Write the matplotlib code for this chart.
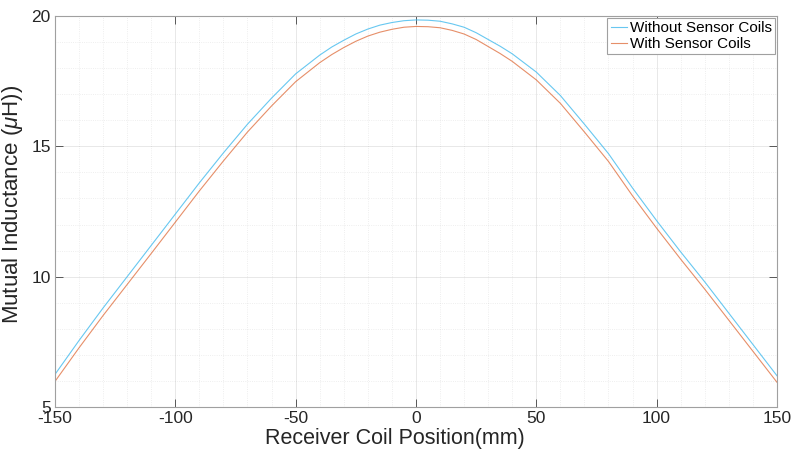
import numpy as np
import matplotlib.pyplot as plt
from matplotlib.ticker import MultipleLocator

plt.rcParams['font.family'] = ['Liberation Sans', 'DejaVu Sans']
plt.rcParams['axes.unicode_minus'] = False
plt.rcParams['mathtext.fontset'] = 'custom'
plt.rcParams['mathtext.it'] = 'Liberation Sans:italic'
plt.rcParams['mathtext.rm'] = 'Liberation Sans'

# receiver coil position (mm)
pos = [-150, -140, -130, -120, -110, -100, -90, -80, -70, -60, -50, -40, -35, -30, -25,
       -20, -15, -10, -5, 0, 5, 10, 15, 20, 25, 30, 35, 40, 50, 60, 70, 80, 90, 100,
       110, 120, 130, 140, 150]
# mutual inductance (uH)
without_coils = [6.25, 7.55, 8.80, 10.00, 11.20, 12.40, 13.60, 14.75, 15.85, 16.85, 17.78,
                 18.50, 18.81, 19.07, 19.31, 19.50, 19.65, 19.75, 19.82, 19.85, 19.84,
                 19.80, 19.70, 19.57, 19.36, 19.10, 18.84, 18.55, 17.85, 16.95, 15.85,
                 14.72, 13.40, 12.15, 10.95, 9.80, 8.60, 7.40, 6.20]
with_coils = [5.98, 7.27, 8.51, 9.70, 10.89, 12.09, 13.29, 14.44, 15.55, 16.55, 17.48,
              18.21, 18.52, 18.79, 19.03, 19.23, 19.38, 19.49, 19.57, 19.60, 19.59,
              19.55, 19.45, 19.31, 19.10, 18.83, 18.56, 18.26, 17.55, 16.65, 15.55,
              14.42, 13.10, 11.86, 10.67, 9.52, 8.33, 7.14, 5.95]

fig = plt.figure(figsize=(7.92, 4.59), dpi=100)
ax = fig.add_axes([0.0694, 0.1133, 0.9116, 0.8518])

ax.plot(pos, without_coils, color='#4DBEEE', lw=0.8, alpha=0.85, label='Without Sensor Coils')
ax.plot(pos, with_coils, color='#D95319', lw=0.8, alpha=0.65, label='With Sensor Coils')

ax.set_xlim(-150, 150)
ax.set_ylim(5, 20)
ax.set_xticks([-150, -100, -50, 0, 50, 100, 150])
ax.set_yticks([5, 10, 15, 20])
ax.xaxis.set_minor_locator(MultipleLocator(10))
ax.yaxis.set_minor_locator(MultipleLocator(1))

ax.grid(which='major', color='#262626', alpha=0.12, lw=0.6)
ax.grid(which='minor', color='#262626', alpha=0.10, lw=0.6, ls=':')
ax.set_axisbelow(True)

ax.tick_params(which='major', direction='in', length=6, width=0.6, color='#404040',
               top=True, right=True, labelsize=12.5, pad=3, labelcolor='#262626')
ax.tick_params(which='minor', length=0)
for s in ax.spines.values():
    s.set_color('#a0a0a0')
    s.set_linewidth(0.8)

ax.set_xlabel('Receiver Coil Position(mm)', fontsize=15.5, labelpad=1, color='#262626')
ax.set_ylabel(r'Mutual Inductance ($\mu$H))', fontsize=16, color='#262626')
ax.xaxis.label.set_x(0.471)
ax.yaxis.set_label_coords(-0.041, 0.517)

leg = ax.legend(loc='upper right', fontsize=11, handlelength=1.1, handletextpad=0.15,
                borderpad=0.2, labelspacing=0.1, fancybox=False, framealpha=1,
                borderaxespad=0.15)
leg.get_frame().set_edgecolor('#a0a0a0')
leg.get_frame().set_linewidth(0.8)

fig.savefig('out.png', dpi=100)
